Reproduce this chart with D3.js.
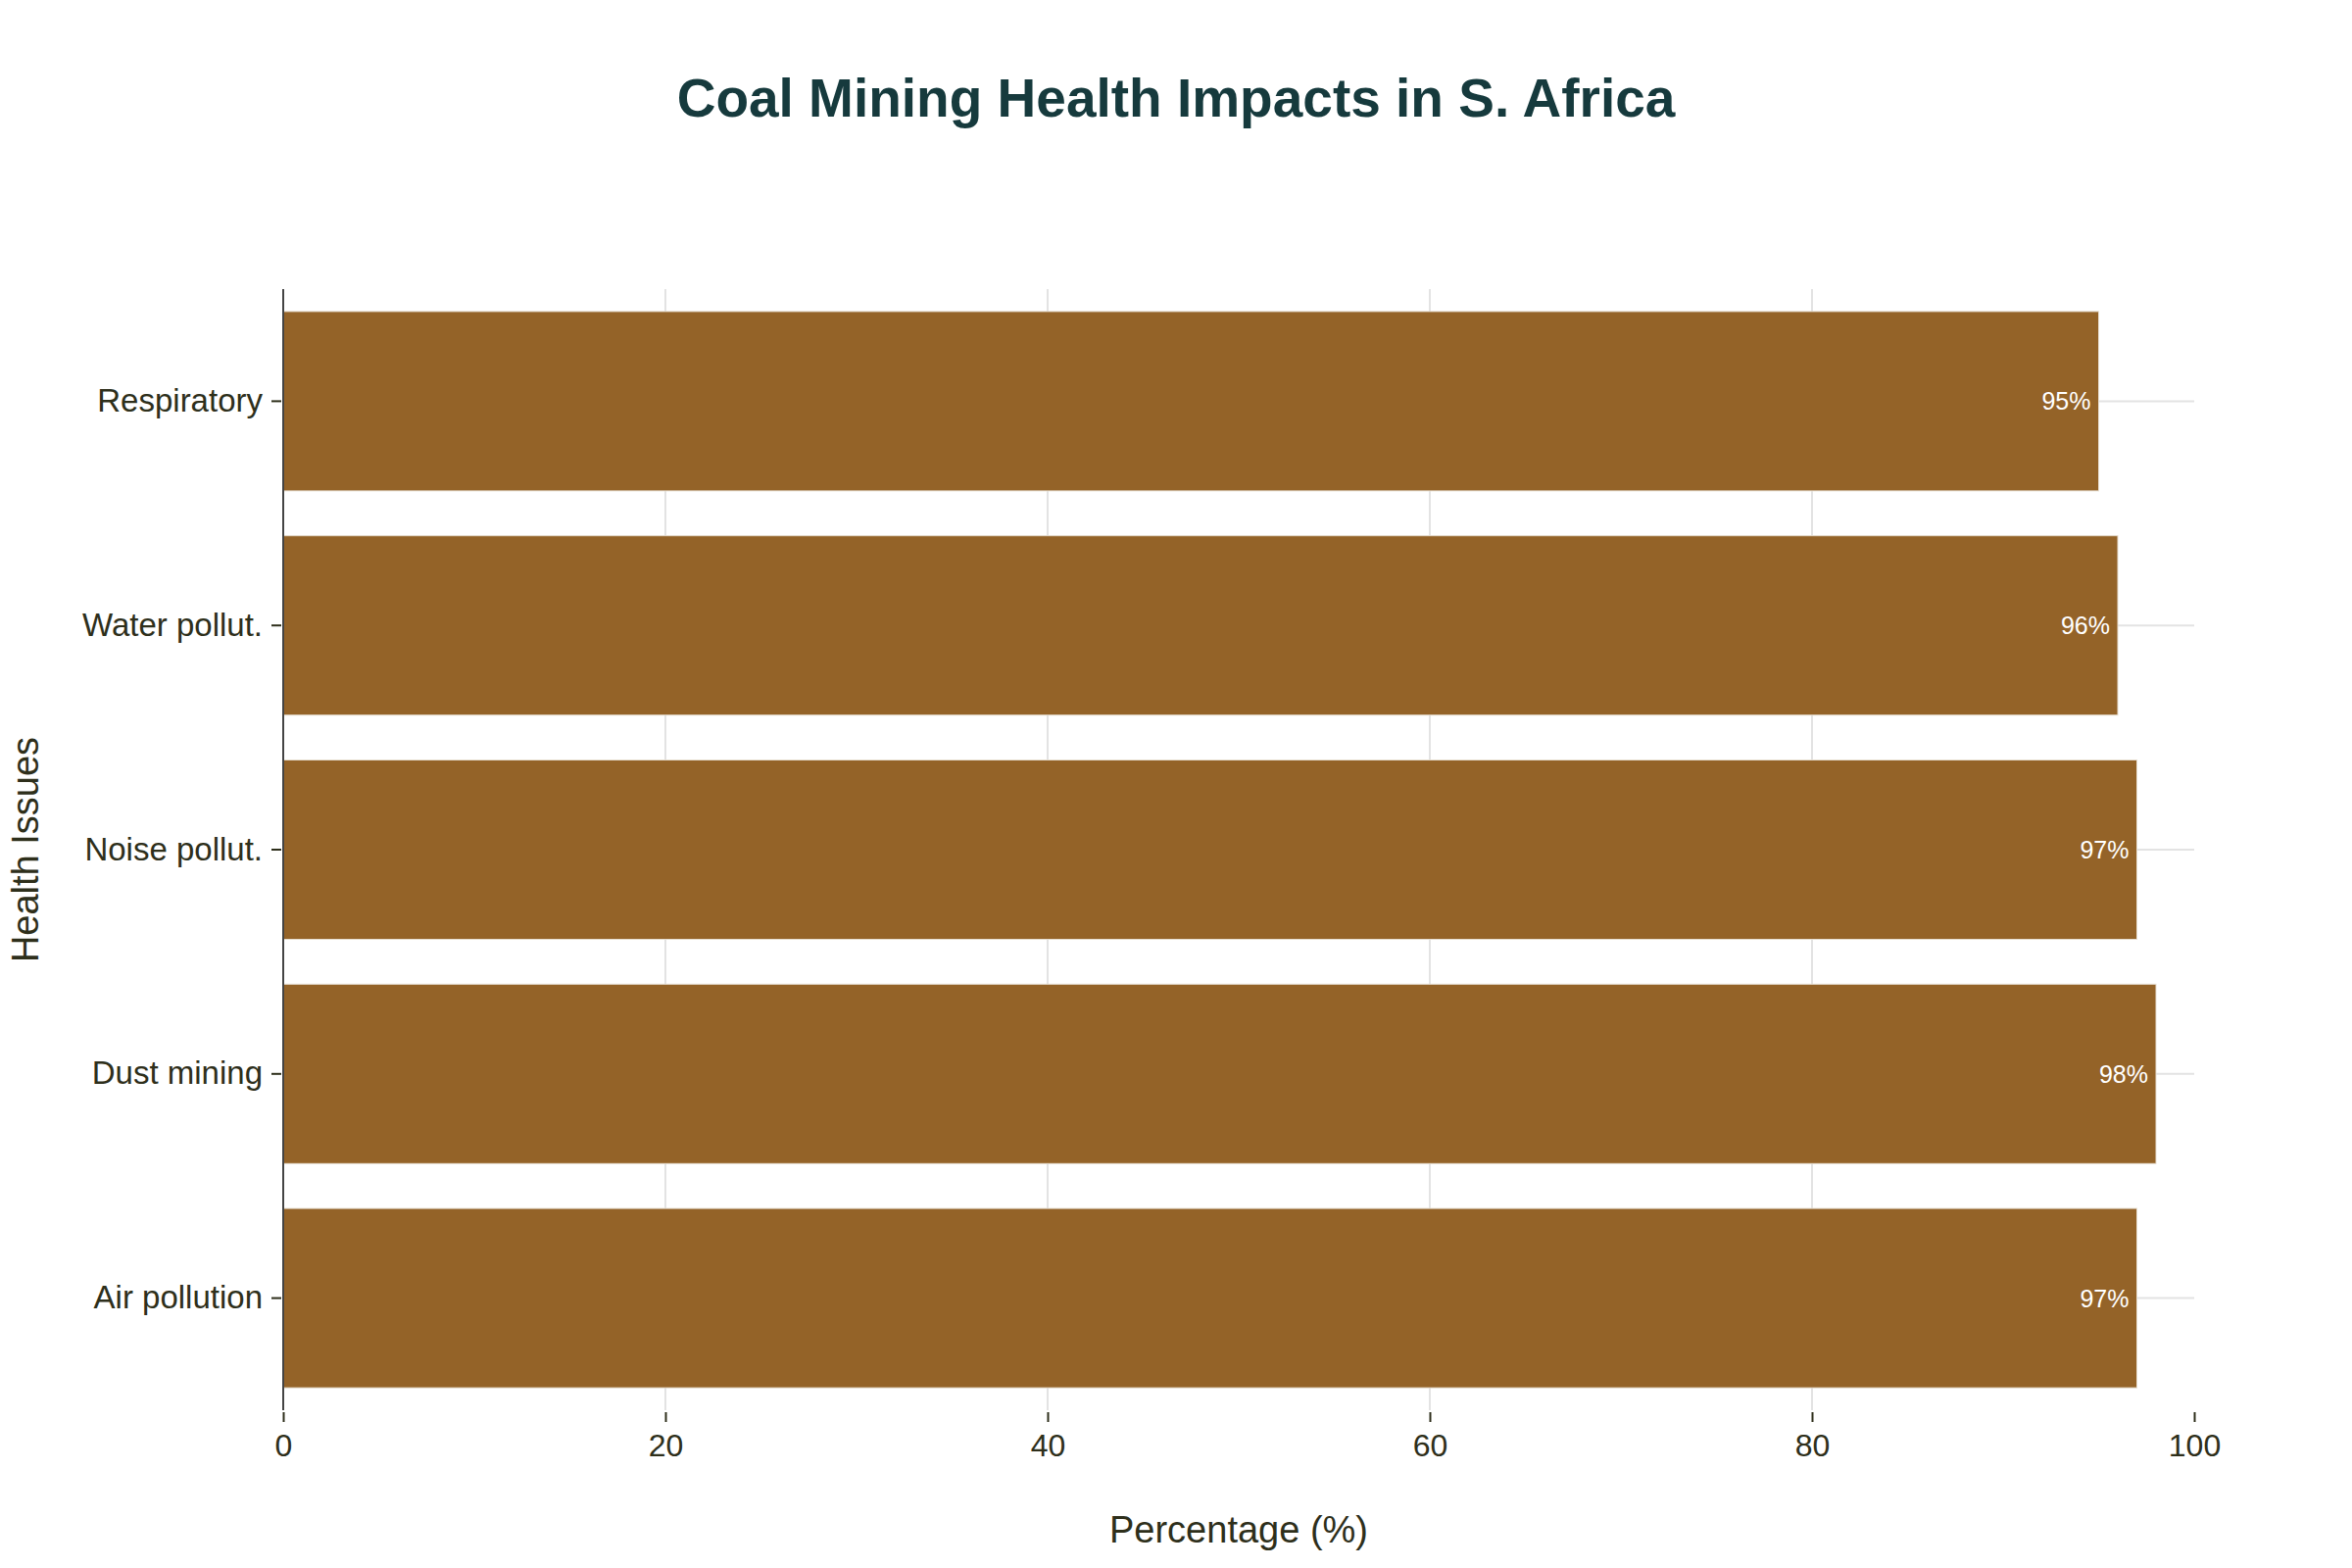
<!DOCTYPE html>
<html>
<head>
<meta charset="utf-8">
<script src="https://cdn.jsdelivr.net/npm/d3@7"></script>
<style>
  html, body { margin: 0; padding: 0; background: #ffffff; }
  #chart { width: 2400px; height: 1600px; }
</style>
</head>
<body>
<div id="chart"></div>
<script>
// Top-to-bottom order as shown in the chart.
const categories = ["Respiratory", "Water pollut.", "Noise pollut.", "Dust mining", "Air pollution"];
const percentages = [95, 96, 97, 98, 97];
const xTicks = [0, 20, 40, 60, 80, 100];

const chartTitle = "Coal Mining Health Impacts in S. Africa";
const xTitle = "Percentage (%)";
const yTitle = "Health Issues";

function drawChart() {
  const width = 2400;
  const height = 1600;
  const margin = { top: 295, right: 161, bottom: 161, left: 289 };
  const innerWidth = width - margin.left - margin.right;
  const innerHeight = height - margin.top - margin.bottom;
  const font = "'Liberation Sans', Arial, sans-serif";
  const textColor = "#2e2f1b";

  const svg = d3.select("#chart")
    .append("svg")
    .attr("width", width)
    .attr("height", height)
    .style("font-family", font);

  const chart = svg.append("g")
    .attr("transform", `translate(${margin.left},${margin.top})`);

  const x = d3.scaleLinear().domain([0, 100]).range([0, innerWidth]);
  const y = d3.scaleBand()
    .domain(categories)
    .range([0, innerHeight])
    .paddingInner(0.2)
    .paddingOuter(0.1);

  // vertical grid (none at 0 or 100)
  chart.append("g")
    .selectAll("line")
    .data(xTicks.filter((t) => t > 0 && t < 100))
    .enter()
    .append("line")
    .attr("x1", (d) => x(d))
    .attr("x2", (d) => x(d))
    .attr("y1", 0)
    .attr("y2", innerHeight)
    .attr("stroke", "#e3e3e3")
    .attr("stroke-width", 2);

  // horizontal grid at each category
  chart.append("g")
    .selectAll("line")
    .data(categories)
    .enter()
    .append("line")
    .attr("x1", 0)
    .attr("x2", innerWidth)
    .attr("y1", (d) => y(d) + y.bandwidth() / 2)
    .attr("y2", (d) => y(d) + y.bandwidth() / 2)
    .attr("stroke", "#e3e3e3")
    .attr("stroke-width", 2);

  const rows = categories.map((name, i) => ({ name, value: percentages[i] }));

  chart.append("g")
    .selectAll("rect")
    .data(rows)
    .enter()
    .append("rect")
    .attr("x", 0)
    .attr("y", (d) => y(d.name))
    .attr("width", (d) => x(d.value))
    .attr("height", y.bandwidth())
    .attr("fill", "#946328")
    .attr("stroke", "#e6ddd0")
    .attr("stroke-width", 1);

  chart.append("g")
    .selectAll("text")
    .data(rows)
    .enter()
    .append("text")
    .attr("x", (d) => x(d.value) - 8)
    .attr("y", (d) => y(d.name) + y.bandwidth() / 2)
    .attr("dy", "0.36em")
    .attr("text-anchor", "end")
    .attr("fill", "#ffffff")
    .attr("font-size", 25)
    .text((d) => `${d.value}%`);

  // x axis (ticks only, no domain line)
  chart.append("g")
    .attr("transform", `translate(0,${innerHeight + 2})`)
    .call(d3.axisBottom(x).tickValues(xTicks).tickSize(10).tickPadding(12))
    .call((g) => g.select(".domain").remove())
    .call((g) => g.selectAll("line").attr("stroke", "#2e2f1b").attr("stroke-width", 2))
    .call((g) => g.selectAll("text")
      .attr("fill", textColor)
      .style("font-family", font)
      .style("font-size", "32px"));

  // y axis
  chart.append("g")
    .attr("transform", "translate(-2,0)")
    .call(d3.axisLeft(y).tickSize(10).tickPadding(9))
    .call((g) => g.select(".domain").remove())
    .call((g) => g.selectAll("line").attr("stroke", "#2e2f1b").attr("stroke-width", 2))
    .call((g) => g.selectAll("text")
      .attr("fill", textColor)
      .style("font-family", font)
      .style("font-size", "33px"));

  chart.append("line")
    .attr("x1", 0)
    .attr("x2", 0)
    .attr("y1", 0)
    .attr("y2", innerHeight)
    .attr("stroke", "#444444")
    .attr("stroke-width", 2);

  svg.append("text")
    .attr("x", width / 2)
    .attr("y", 119)
    .attr("text-anchor", "middle")
    .attr("fill", "#163a3d")
    .attr("font-size", 55)
    .attr("font-weight", 700)
    .text(chartTitle);

  svg.append("text")
    .attr("x", margin.left + innerWidth / 2)
    .attr("y", 1574)
    .attr("text-anchor", "middle")
    .attr("fill", textColor)
    .attr("font-size", 38)
    .text(xTitle);

  svg.append("text")
    .attr("transform", `translate(39,${margin.top + innerHeight / 2}) rotate(-90)`)
    .attr("text-anchor", "middle")
    .attr("fill", textColor)
    .attr("font-size", 38)
    .text(yTitle);
}

drawChart();
</script>
</body>
</html>
